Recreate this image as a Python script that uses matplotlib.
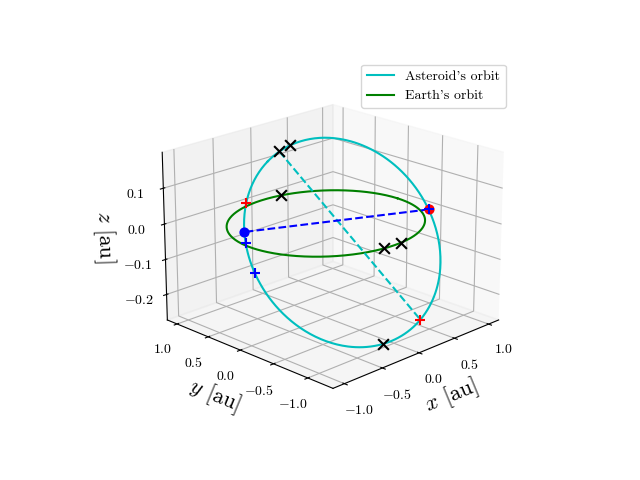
import numpy as np
import matplotlib
matplotlib.use("Agg")
import matplotlib.pyplot as plt

plt.rcParams['font.family'] = 'serif'
plt.rcParams['font.serif'] = ['cmr10']
plt.rcParams['mathtext.fontset'] = 'cm'
plt.rcParams['axes.formatter.use_mathtext'] = True

# orbital elements of the asteroid (deg, au)
a_ast = 1.0
e_ast = 0.22
inc = 12.0
Omega = 333.0
omega = 125.0

# true anomalies (deg) of marked asteroid positions
nu_black = [-12.0, -22.0, 158.0]
nu_red = [36.0, 180.0]
nu_blue = [62.0, 80.0]
nu_dash = [-12.0, 180.0]
# Earth positions (deg of longitude)
earth_black = [76.0, 262.0, 275.0]


def ast_pos(nu_deg):
    nu = np.radians(np.asarray(nu_deg, dtype=float))
    r = a_ast * (1 - e_ast**2) / (1 + e_ast * np.cos(nu))
    u = nu + np.radians(omega)
    O, i = np.radians(Omega), np.radians(inc)
    x = r * (np.cos(O) * np.cos(u) - np.sin(O) * np.sin(u) * np.cos(i))
    y = r * (np.sin(O) * np.cos(u) + np.cos(O) * np.sin(u) * np.cos(i))
    z = r * np.sin(u) * np.sin(i)
    return x, y, z


def earth_pos(lon_deg):
    t = np.radians(np.asarray(lon_deg, dtype=float))
    return np.cos(t), np.sin(t), 0 * t


fig = plt.figure(figsize=(6.4, 4.8))
ax = fig.add_subplot(projection='3d')

th = np.linspace(0, 360, 400)
xa, ya, za = ast_pos(th)
ax.plot(xa, ya, za, 'c', label="Asteroid's orbit")
xe, ye, ze = earth_pos(th)
ax.plot(xe, ye, ze, 'g', label="Earth's orbit")

# dashed chord across the asteroid orbit
xp, yp, zp = ast_pos(nu_dash)
ax.plot(xp, yp, zp, 'c--')
# line of nodes
xn, yn, zn = ast_pos([-omega, 180 - omega])
ax.plot(xn, yn, zn, 'b--')
ax.scatter(xn[1], yn[1], zn[1], c='b', s=40, depthshade=False)
ax.scatter(xn[0], yn[0], zn[0], c='r', s=40, depthshade=False)

xb, yb, zb = ast_pos(nu_black)
ax.scatter(xb, yb, zb, c='k', marker='x', s=60, depthshade=False)
xb, yb, zb = earth_pos(earth_black)
ax.scatter(xb, yb, zb, c='k', marker='x', s=60, depthshade=False)
xr, yr, zr = ast_pos(nu_red)
ax.scatter(xr, yr, zr, c='r', marker='+', s=60, depthshade=False)
xu, yu, zu = ast_pos(nu_blue)
ax.scatter(xu, yu, zu, c='b', marker='+', s=60, depthshade=False)
ax.scatter(xn[0], yn[0], zn[0], c='b', marker='+', s=60, depthshade=False)

ax.set_xlabel('$x$ [au]', fontsize=16)
ax.set_ylabel('$y$ [au]', fontsize=16)
ax.set_zlabel('$z$ [au]', fontsize=16)
ax.view_init(elev=20, azim=-135)
ax.legend(loc='upper right')
plt.savefig('out.png')
